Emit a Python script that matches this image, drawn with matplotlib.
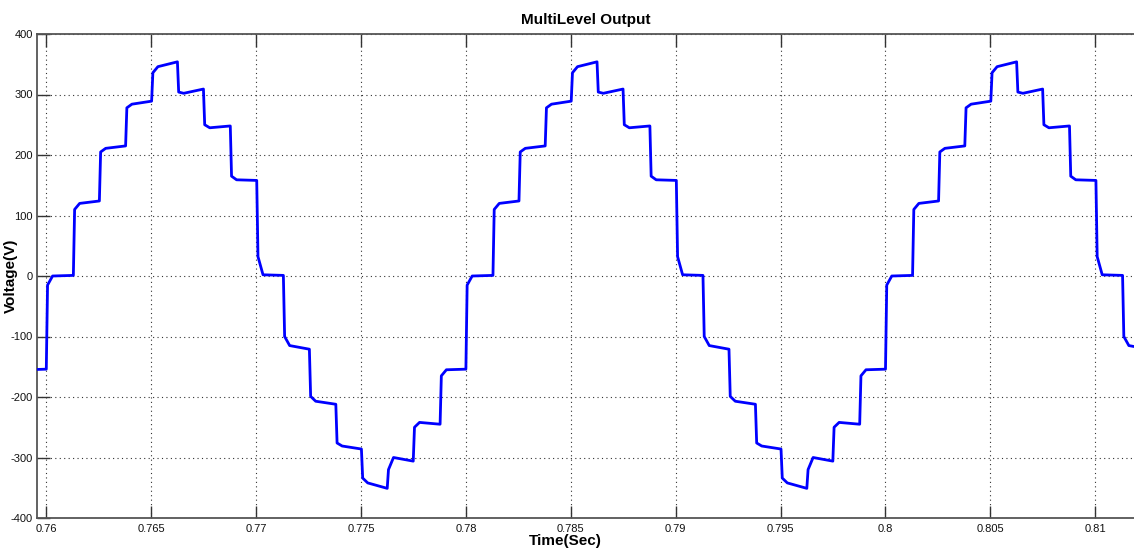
import matplotlib
matplotlib.use("Agg")
import matplotlib.pyplot as plt

# one 20 ms period of the staircase
# (switch instant in ms from period start, value just after switch, plateau start, plateau end) in volts
switch_ms = [0.00, 1.29, 2.53, 3.78, 5.02, 6.25, 7.49, 8.77,
             10.03, 11.30, 12.54, 13.80, 15.02, 16.25, 17.49, 18.77]
v_mid = [-15, 110, 205, 278, 336, 304, 250, 165,
         32, -100, -199, -276, -334, -320, -250, -165]
v_start = [0, 120, 211, 284, 346, 302, 245, 159,
           2, -115, -207, -281, -342, -300, -242, -155]
v_end = [1, 124, 215, 289, 354, 309, 248, 158,
         1, -121, -212, -286, -351, -306, -245, -154]
period_starts = [0.74, 0.76, 0.78, 0.80]
PERIOD_MS = 20.0

x_ticks = [0.76, 0.765, 0.77, 0.775, 0.78, 0.785, 0.79, 0.795, 0.80, 0.805, 0.81]
x_tick_labels = ["0.76", "0.765", "0.77", "0.775", "0.78", "0.785", "0.79",
                 "0.795", "0.8", "0.805", "0.81"]
y_ticks = [-400, -300, -200, -100, 0, 100, 200, 300, 400]

# build the vertex list
t, v = [], []
for p0 in period_starts:
    for i, ts in enumerate(switch_ms):
        te = switch_ms[i + 1] if i + 1 < len(switch_ms) else PERIOD_MS
        t += [p0 + (ts + 0.06) / 1000, p0 + (ts + 0.3) / 1000, p0 + te / 1000]
        v += [v_mid[i], v_start[i], v_end[i]]

plain = ["Liberation Sans", "DejaVu Sans"]

fig = plt.figure(figsize=(11.34, 5.51), dpi=100)
fig.patch.set_facecolor("white")
ax = fig.add_axes([37 / 1134, 1 - 518 / 551, 1 - 37 / 1134, (518 - 34) / 551])
ax.plot(t, v, color="#0000ff", lw=2.0, zorder=3)

ax.set_xlim(0.759557, 0.811845)
ax.set_ylim(-400, 400)
ax.set_xticks(x_ticks)
ax.set_xticklabels(x_tick_labels)
ax.set_yticks(y_ticks)
ax.set_yticklabels([str(y) for y in y_ticks])
for lbl in ax.get_xticklabels() + ax.get_yticklabels():
    lbl.set_family(plain)
    lbl.set_fontsize(8)
ax.tick_params(direction="in", length=9, width=1.0, color="#333333",
               top=True, right=False, labelcolor="#111111")
ax.tick_params(axis="x", pad=4)
ax.tick_params(axis="y", pad=3)
ax.grid(True, color="#333333", ls=(0, (1, 3)), lw=0.8)
for s in ("left", "bottom", "top"):
    ax.spines[s].set_color("#555555")
    ax.spines[s].set_linewidth(1.3)
ax.spines["right"].set_visible(False)

ax.set_title("MultiLevel Output", fontsize=11, fontweight="bold", family=plain, pad=7)
ax.set_xlabel("Time(Sec)", fontsize=11, fontweight="bold", family=plain)
ax.set_ylabel("Voltage(V)", fontsize=11, fontweight="bold", family=plain)
ax.xaxis.set_label_coords((565 - 37) / 1097, -0.033)
ax.yaxis.set_label_coords((18 - 37) / 1097, 0.5)

fig.savefig("out.png", dpi=100)
